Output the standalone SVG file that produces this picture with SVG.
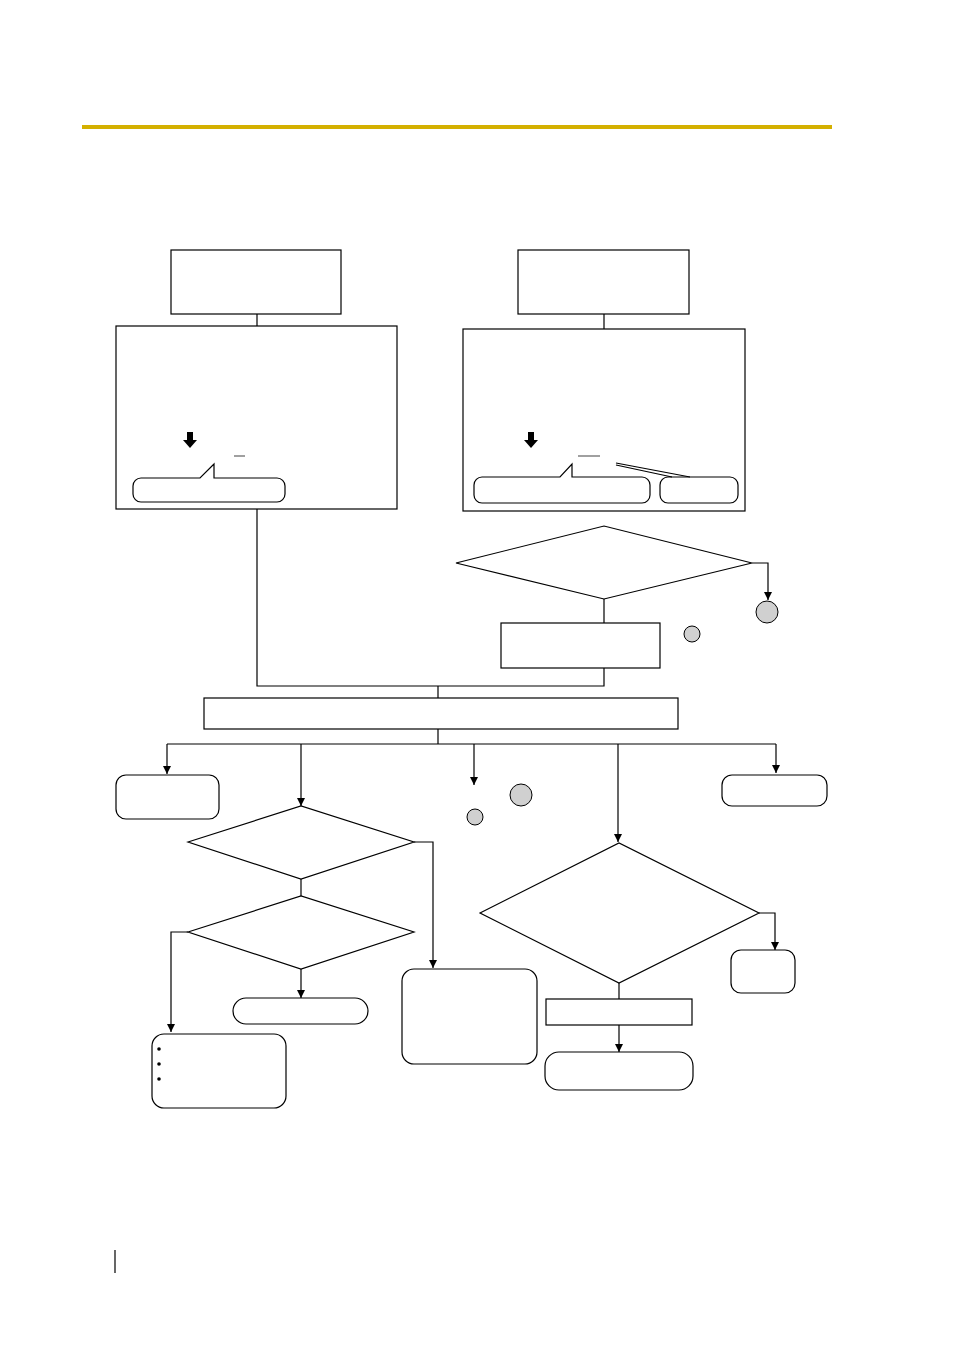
<svg xmlns="http://www.w3.org/2000/svg" width="954" height="1350" viewBox="0 0 954 1350">
<style>
.b{fill:#fff;stroke:#000;stroke-width:1.2}
.l{fill:none;stroke:#000;stroke-width:1.2}
.c{fill:#d0d0d0;stroke:#000;stroke-width:1}
.g{stroke:#a0a0a0;stroke-width:2}
</style>
<defs><marker id="a" markerWidth="8" markerHeight="10" refX="4" refY="10" orient="auto" markerUnits="userSpaceOnUse"><path d="M0,0 L8,0 L4,10 Z" fill="#000" transform="rotate(-90 4 5) translate(0 0)"/></marker>
<marker id="ar" viewBox="0 0 10 10" markerWidth="8" markerHeight="10" refX="10" refY="5" orient="auto" markerUnits="userSpaceOnUse"><path d="M0,0 L10,5 L0,10 Z" fill="#000"/></marker></defs>
<rect x="82" y="125" width="750" height="4" fill="#d4b000"/>
<line x1="115" y1="1250" x2="115" y2="1273" class="l"/>
<g id="conn" class="l">
<path d="M257,314V326M604,314V329"/>
<path d="M257,509V686H604V668M604,599V623M438,686V698M438,729V744M167,744H776"/>
<path d="M752,563H768V600" marker-end="url(#ar)"/>
<path d="M167,744V774" marker-end="url(#ar)"/>
<path d="M301,744V806" marker-end="url(#ar)"/>
<path d="M474,744V785" marker-end="url(#ar)"/>
<path d="M618,744V842" marker-end="url(#ar)"/>
<path d="M776,744V773" marker-end="url(#ar)"/>
<path d="M414,842H433V968" marker-end="url(#ar)"/>
<path d="M301,879V896"/>
<path d="M188,932H171V1032" marker-end="url(#ar)"/>
<path d="M301,969V998" marker-end="url(#ar)"/>
<path d="M759,913H775V950" marker-end="url(#ar)"/>
<path d="M619,983V999"/>
<path d="M619,1025V1052" marker-end="url(#ar)"/>
</g>
<g id="n1"><rect class="b" x="171" y="250" width="170" height="64"/></g>
<g id="n2"><rect class="b" x="518" y="250" width="171" height="64"/></g>
<g id="n3"><rect class="b" x="116" y="326" width="281" height="183"/>
<path d="M187,432h6v8h4l-7,8l-7,-8h4z" fill="#000"/>
<line class="g" x1="234" y1="456" x2="245" y2="456"/>
<path class="l" d="M200,478H141a8,8 0 0 0 -8,8V494a8,8 0 0 0 8,8H277a8,8 0 0 0 8,-8V486a8,8 0 0 0 -8,-8H214V464Z" fill="#fff"/></g>
<g id="n4"><rect class="b" x="463" y="329" width="282" height="182"/>
<path d="M528,432h6v8h4l-7,8l-7,-8h4z" fill="#000"/>
<line class="g" x1="578" y1="456" x2="600" y2="456"/>
<path class="l" d="M560,477H482a8,8 0 0 0 -8,8V495a8,8 0 0 0 8,8H642a8,8 0 0 0 8,-8V485a8,8 0 0 0 -8,-8H572V464Z" fill="#fff"/>
<rect class="b" x="660" y="477" width="78" height="26" rx="8"/>
<path class="l" d="M616,463L690,477M616,465L672,477"/></g>
<g id="d1"><polygon class="b" points="456,563 604,526 752,563 604,599"/></g>
<g id="c1"><circle class="c" cx="767" cy="612" r="11"/><circle class="c" cx="692" cy="634" r="8"/></g>
<g id="n5"><rect class="b" x="501" y="623" width="159" height="45"/></g>
<g id="n6"><rect class="b" x="204" y="698" width="474" height="31"/></g>
<g id="n7"><rect class="b" x="116" y="775" width="103" height="44" rx="10"/></g>
<g id="n8"><rect class="b" x="722" y="775" width="105" height="31" rx="10"/></g>
<g id="c2"><circle class="c" cx="521" cy="795" r="11"/><circle class="c" cx="475" cy="817" r="8"/></g>
<g id="d2"><polygon class="b" points="188,842 301,806 414,842 301,879"/></g>
<g id="d3"><polygon class="b" points="188,932 301,896 414,932 301,969"/></g>
<g id="n9"><rect class="b" x="233" y="998" width="135" height="26" rx="13"/></g>
<g id="n10"><rect class="b" x="152" y="1034" width="134" height="74" rx="12"/>
<circle cx="159" cy="1049" r="1.8"/><circle cx="159" cy="1064" r="1.8"/><circle cx="159" cy="1079" r="1.8"/></g>
<g id="n11"><rect class="b" x="402" y="969" width="135" height="95" rx="12"/></g>
<g id="d4"><polygon class="b" points="480,913 619,843 759,913 619,983"/></g>
<g id="n12"><rect class="b" x="731" y="950" width="64" height="43" rx="10"/></g>
<g id="n13"><rect class="b" x="546" y="999" width="146" height="26"/></g>
<g id="n14"><rect class="b" x="545" y="1052" width="148" height="38" rx="14"/></g>
</svg>
